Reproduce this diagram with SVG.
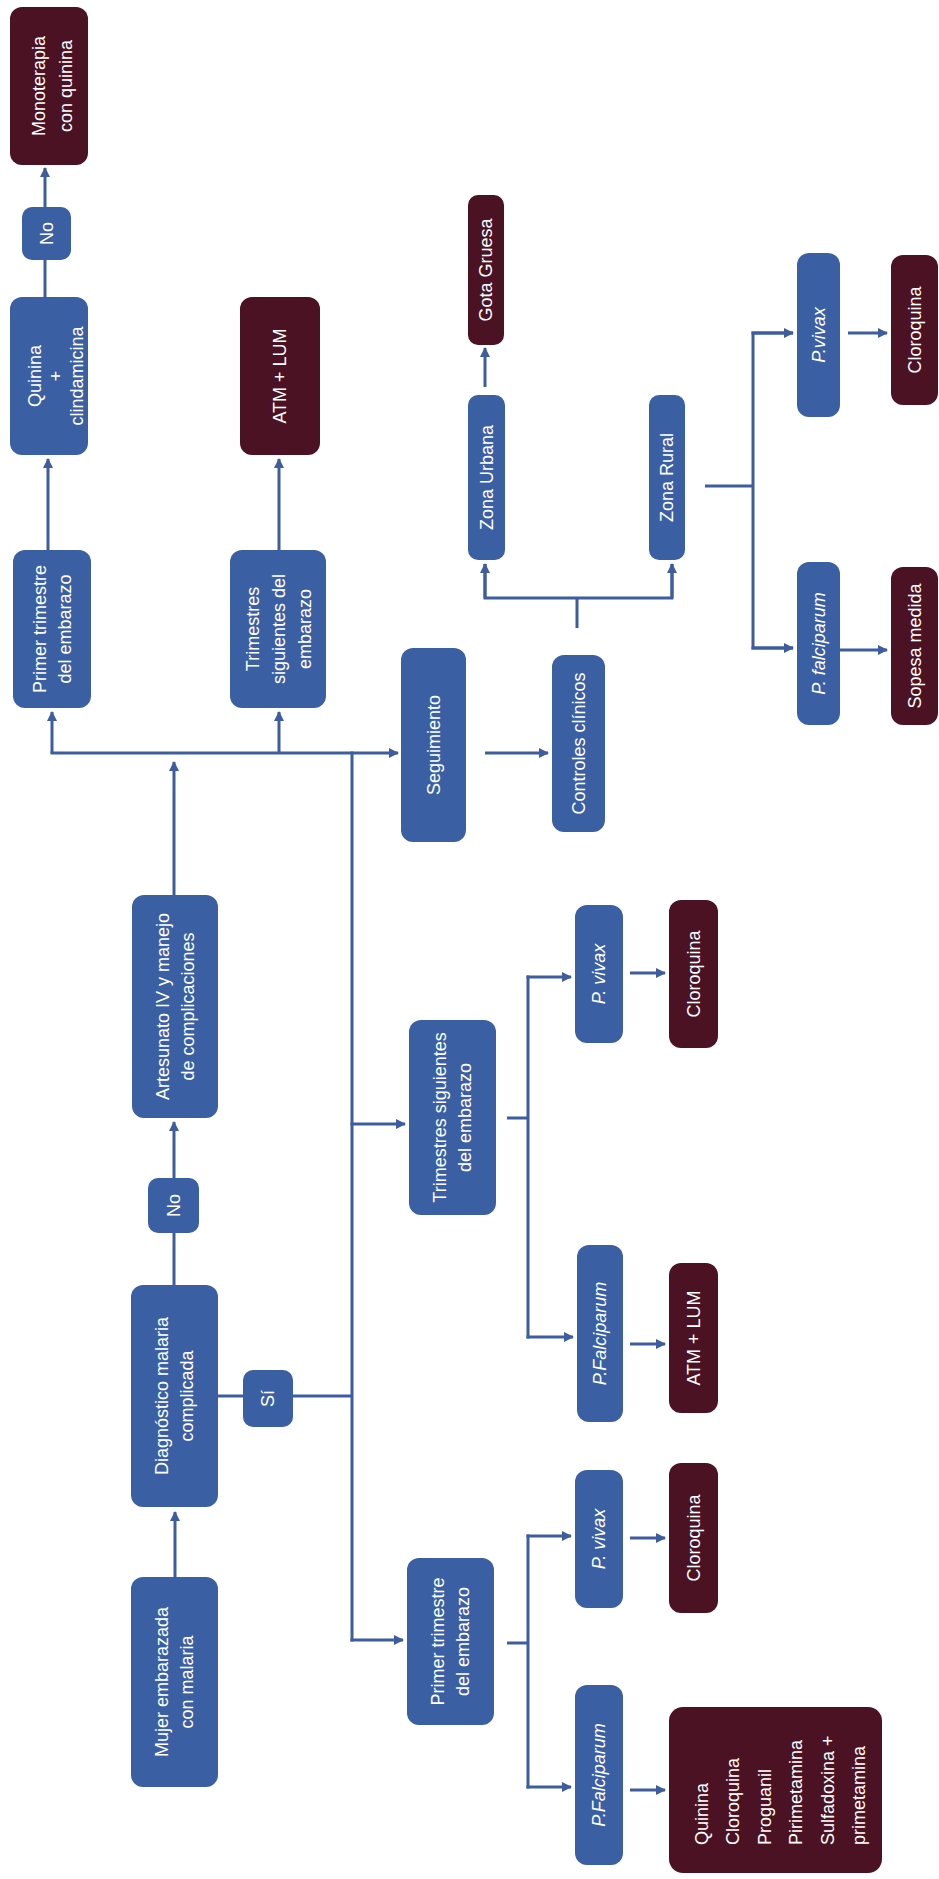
<svg xmlns="http://www.w3.org/2000/svg" width="939" height="1879" viewBox="0 0 939 1879">
<style>
.b{fill:#3b5fa3}
.m{fill:#4a1222}
text{font-family:"Liberation Sans",Arial,sans-serif;font-size:18px;fill:#ffffff;text-anchor:middle}
.i{font-style:italic}
.l{text-anchor:start}
.c line,.c path{stroke:#3d5d9e;stroke-width:3;fill:none}
</style>
<defs>
<marker id="a" markerUnits="userSpaceOnUse" markerWidth="10" markerHeight="10" refX="9" refY="5" orient="auto">
<path d="M0,0 L10,5 L0,10 z" fill="#3d5d9e"/>
</marker>
</defs>
<rect width="939" height="1879" fill="#ffffff"/>
<g class="c" id="connectors">
<line x1="175" y1="1577" x2="175" y2="1512" marker-end="url(#a)"/>
<line x1="174" y1="1285" x2="174" y2="1233"/>
<line x1="174" y1="1178" x2="174" y2="1122" marker-end="url(#a)"/>
<line x1="174" y1="895" x2="174" y2="762" marker-end="url(#a)"/>
<line x1="50.5" y1="753" x2="398" y2="753" marker-end="url(#a)"/>
<line x1="52" y1="753" x2="52" y2="712" marker-end="url(#a)"/>
<line x1="279" y1="753" x2="279" y2="712" marker-end="url(#a)"/>
<line x1="48" y1="550" x2="48" y2="459" marker-end="url(#a)"/>
<line x1="279" y1="550" x2="279" y2="459" marker-end="url(#a)"/>
<line x1="45" y1="297" x2="45" y2="260"/>
<line x1="45" y1="207" x2="45" y2="168" marker-end="url(#a)"/>
<line x1="218" y1="1396" x2="243" y2="1396"/>
<line x1="293" y1="1396" x2="352" y2="1396"/>
<line x1="352" y1="751.5" x2="352" y2="1641.5"/>
<line x1="350.5" y1="1124" x2="405" y2="1124" marker-end="url(#a)"/>
<line x1="350.5" y1="1640" x2="403" y2="1640" marker-end="url(#a)"/>
<line x1="485" y1="753" x2="548" y2="753" marker-end="url(#a)"/>
<line x1="577" y1="628" x2="577" y2="598"/>
<path d="M485 564 L485 598 L672 598 L672 564"/>
<line x1="485" y1="598" x2="485" y2="564" marker-end="url(#a)"/>
<line x1="672" y1="598" x2="672" y2="564" marker-end="url(#a)"/>
<line x1="485" y1="387" x2="485" y2="348" marker-end="url(#a)"/>
<line x1="705" y1="486" x2="753" y2="486"/>
<path d="M793 333 L753 333 L753 648 L793 648"/>
<line x1="751.5" y1="333" x2="793" y2="333" marker-end="url(#a)"/>
<line x1="751.5" y1="648" x2="793" y2="648" marker-end="url(#a)"/>
<line x1="848" y1="333" x2="887" y2="333" marker-end="url(#a)"/>
<line x1="840" y1="650" x2="887" y2="650" marker-end="url(#a)"/>
<line x1="507" y1="1118" x2="528" y2="1118"/>
<line x1="528" y1="975.5" x2="528" y2="1338.5"/>
<line x1="526.5" y1="977" x2="571" y2="977" marker-end="url(#a)"/>
<line x1="526.5" y1="1337" x2="573" y2="1337" marker-end="url(#a)"/>
<line x1="630" y1="973" x2="665" y2="973" marker-end="url(#a)"/>
<line x1="630" y1="1344" x2="665" y2="1344" marker-end="url(#a)"/>
<line x1="507" y1="1643" x2="528" y2="1643"/>
<line x1="528" y1="1534.5" x2="528" y2="1788.5"/>
<line x1="526.5" y1="1536" x2="571" y2="1536" marker-end="url(#a)"/>
<line x1="526.5" y1="1787" x2="571" y2="1787" marker-end="url(#a)"/>
<line x1="630" y1="1538" x2="665" y2="1538" marker-end="url(#a)"/>
<line x1="630" y1="1790" x2="665" y2="1790" marker-end="url(#a)"/>
</g>
<g id="mujer"><rect class="b" x="131" y="1577" width="87" height="210" rx="12"/><text transform="rotate(-90)"><tspan x="-1682" y="168.3">Mujer embarazada</tspan><tspan x="-1682" y="193.3">con malaria</tspan></text></g>
<g id="diagnostico"><rect class="b" x="131" y="1285" width="87" height="222" rx="12"/><text transform="rotate(-90)"><tspan x="-1396" y="168.3">Diagnóstico malaria</tspan><tspan x="-1396" y="193.3">complicada</tspan></text></g>
<g id="no1"><rect class="b" x="148" y="1178" width="51" height="55" rx="10"/><text transform="rotate(-90)" x="-1205.5" y="179.8">No</text></g>
<g id="si"><rect class="b" x="243" y="1370" width="50" height="57" rx="10"/><text transform="rotate(-90)" x="-1398.5" y="274.3">Sí</text></g>
<g id="artesunato"><rect class="b" x="132" y="895" width="86" height="223" rx="12"/><text transform="rotate(-90)"><tspan x="-1006.5" y="168.8">Artesunato IV y manejo</tspan><tspan x="-1006.5" y="193.8">de complicaciones</tspan></text></g>
<g id="primer1"><rect class="b" x="13" y="550" width="78" height="158" rx="12"/><text transform="rotate(-90)"><tspan x="-629" y="46">Primer trimestre</tspan><tspan x="-629" y="71">del embarazo</tspan></text></g>
<g id="trimestres1"><rect class="b" x="230" y="550" width="96" height="158" rx="12"/><text transform="rotate(-90)"><tspan x="-629" y="259">Trimestres</tspan><tspan x="-629" y="285">siguientes del</tspan><tspan x="-629" y="311">embarazo</tspan></text></g>
<g id="quinina"><rect class="b" x="10" y="297" width="78" height="158" rx="12"/><text transform="rotate(-90)"><tspan x="-376" y="41">Quinina</tspan><tspan x="-376" y="62">+</tspan><tspan x="-376" y="83">clindamicina</tspan></text></g>
<g id="no2"><rect class="b" x="22" y="207" width="49" height="53" rx="10"/><text transform="rotate(-90)" x="-233.5" y="52.8">No</text></g>
<g id="monoterapia"><rect class="m" x="10" y="7" width="78" height="158" rx="12"/><text transform="rotate(-90)"><tspan x="-86" y="45">Monoterapia</tspan><tspan x="-86" y="72">con quinina</tspan></text></g>
<g id="atm1"><rect class="m" x="240" y="297" width="80" height="158" rx="12"/><text transform="rotate(-90)" x="-376" y="286.3">ATM + LUM</text></g>
<g id="seguimiento"><rect class="b" x="401" y="648" width="65" height="194" rx="12"/><text transform="rotate(-90)" x="-745" y="439.8">Seguimiento</text></g>
<g id="controles"><rect class="b" x="552" y="655" width="53" height="177" rx="12"/><text transform="rotate(-90)" x="-743.5" y="584.8">Controles clínicos</text></g>
<g id="zonaUrbana"><rect class="b" x="468" y="395" width="37" height="165" rx="10"/><text transform="rotate(-90)" x="-477.5" y="492.8">Zona Urbana</text></g>
<g id="gota"><rect class="m" x="468" y="195" width="36" height="150" rx="10"/><text transform="rotate(-90)" x="-270" y="492.3">Gota Gruesa</text></g>
<g id="zonaRural"><rect class="b" x="649" y="395" width="36" height="165" rx="10"/><text transform="rotate(-90)" x="-477.5" y="673.3">Zona Rural</text></g>
<g id="pvivaxR"><rect class="b" x="797" y="253" width="43" height="164" rx="12"/><text class="i" transform="rotate(-90)" x="-335" y="824.8">P.vivax</text></g>
<g id="cloroR"><rect class="m" x="891" y="255" width="47" height="150" rx="12"/><text transform="rotate(-90)" x="-330" y="920.8">Cloroquina</text></g>
<g id="pfalcR"><rect class="b" x="797" y="562" width="43" height="163" rx="12"/><text class="i" transform="rotate(-90)" x="-643.5" y="824.8">P. falciparum</text></g>
<g id="sopesa"><rect class="m" x="891" y="567" width="47" height="158" rx="12"/><text transform="rotate(-90)" x="-646" y="920.8">Sopesa medida</text></g>
<g id="trimestres2"><rect class="b" x="409" y="1020" width="87" height="195" rx="12"/><text transform="rotate(-90)"><tspan x="-1117.5" y="446.3">Trimestres siguientes</tspan><tspan x="-1117.5" y="471.3">del embarazo</tspan></text></g>
<g id="pvivaxM"><rect class="b" x="575" y="905" width="48" height="138" rx="12"/><text class="i" transform="rotate(-90)" x="-974" y="605.3">P. vivax</text></g>
<g id="cloroM"><rect class="m" x="669" y="900" width="49" height="148" rx="12"/><text transform="rotate(-90)" x="-974" y="699.8">Cloroquina</text></g>
<g id="pfalcM"><rect class="b" x="577" y="1245" width="46" height="177" rx="12"/><text class="i" transform="rotate(-90)" x="-1333.5" y="606.3">P.Falciparum</text></g>
<g id="atm2"><rect class="m" x="669" y="1263" width="49" height="150" rx="12"/><text transform="rotate(-90)" x="-1338" y="699.8">ATM + LUM</text></g>
<g id="primer2"><rect class="b" x="407" y="1558" width="87" height="167" rx="12"/><text transform="rotate(-90)"><tspan x="-1641.5" y="444.3">Primer trimestre</tspan><tspan x="-1641.5" y="469.3">del embarazo</tspan></text></g>
<g id="pvivaxL"><rect class="b" x="575" y="1470" width="48" height="138" rx="12"/><text class="i" transform="rotate(-90)" x="-1539" y="605.3">P. vivax</text></g>
<g id="cloroL"><rect class="m" x="669" y="1463" width="49" height="150" rx="12"/><text transform="rotate(-90)" x="-1538" y="699.8">Cloroquina</text></g>
<g id="pfalcL"><rect class="b" x="575" y="1685" width="48" height="180" rx="12"/><text class="i" transform="rotate(-90)" x="-1775" y="605.3">P.Falciparum</text></g>
<g id="farmacos"><rect class="m" x="669" y="1707" width="213" height="166" rx="14"/><text class="l" transform="rotate(-90)"><tspan x="-1845" y="708">Quinina</tspan><tspan x="-1845" y="739.4">Cloroquina</tspan><tspan x="-1845" y="770.8">Proguanil</tspan><tspan x="-1845" y="802.2">Pirimetamina</tspan><tspan x="-1845" y="833.6">Sulfadoxina +</tspan><tspan x="-1845" y="865">primetamina</tspan></text></g>
</svg>
